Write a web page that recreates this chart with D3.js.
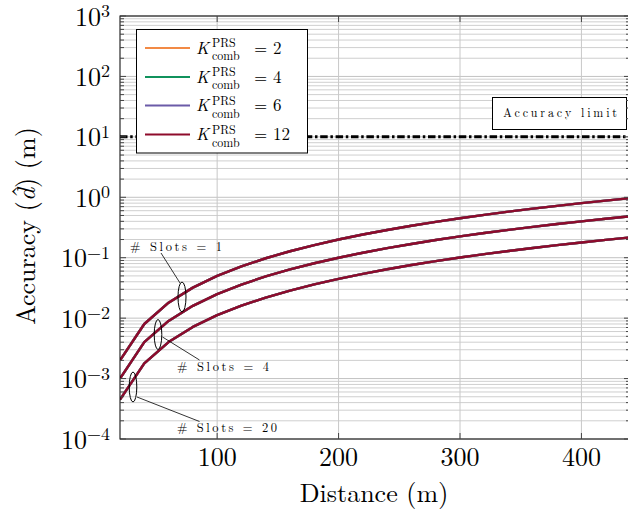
<!DOCTYPE html>
<html><head><meta charset="utf-8">
<script src="https://cdn.jsdelivr.net/npm/d3@7"></script>
<style>body{margin:0;background:#fff} svg{display:block}</style>
</head><body><svg id="c" width="628" height="512"></svg>
<script>
// ---- data ----
const distances = [20,40,60,80,100,120,140,160,180,200,220,240,260,280,300,320,340,360,380,400,420,440];
const slots1  = [0.002,0.008,0.018,0.032,0.05,0.072,0.098,0.128,0.162,0.2,0.242,0.288,0.338,0.392,0.45,0.512,0.578,0.648,0.722,0.8,0.882,0.968];
const slots4  = [0.001,0.004,0.009,0.016,0.025,0.036,0.049,0.064,0.081,0.1,0.121,0.144,0.169,0.196,0.225,0.256,0.289,0.324,0.361,0.4,0.441,0.484];
const slots20 = [0.000447,0.00179,0.00402,0.00716,0.0112,0.0161,0.0219,0.0286,0.0362,0.0447,0.0541,0.0644,0.0756,0.0877,0.1006,0.1145,0.1293,0.1449,0.1614,0.1789,0.1972,0.2164];
const kValues = [2,4,6,12];
const kColors = ["#f28a45","#10925c","#6b5ba8","#8e0b2b"];
const accuracyLimit = 10;
const xTicks = [100,200,300,400];
const yExps = [-4,-3,-2,-1,0,1,2,3];
const slotLabels = ["# Slots = 1","# Slots = 4","# Slots = 20"];
const xTitle = "Distance (m)";
const limitLabel = "Accuracy limit";

// ---- layout ----
const FONT = "'Latin Modern Roman', 'Liberation Serif', serif";
const L=120, R=630, T=16, B=439;
const svg = d3.select("#c");
const x = d3.scaleLinear().domain([20,440]).range([L,R]);
const y = d3.scaleLog().domain([1e-4,1e3]).range([B,T]);
const txt = (sel)=>sel.append("text").style("font-family",FONT).attr("fill","#000");

svg.append("defs").append("clipPath").attr("id","clip")
  .append("rect").attr("x",L).attr("y",T).attr("width",R-L).attr("height",B-T);

// grid
const g = svg.append("g");
const minorVals = [];
for (let e=-4;e<3;e++) for (let m=2;m<=9;m++) minorVals.push(m*Math.pow(10,e));
g.selectAll(".mn").data(minorVals).enter().append("line")
  .attr("x1",L).attr("x2",R).attr("y1",d=>y(d)).attr("y2",d=>y(d))
  .attr("stroke","#cfcfcf").attr("stroke-width",1);
g.selectAll(".mj").data(yExps).enter().append("line")
  .attr("x1",L).attr("x2",R).attr("y1",d=>y(Math.pow(10,d))).attr("y2",d=>y(Math.pow(10,d)))
  .attr("stroke","#c2c2c2").attr("stroke-width",1);
g.selectAll(".vx").data(xTicks).enter().append("line")
  .attr("x1",d=>x(d)).attr("x2",d=>x(d)).attr("y1",T).attr("y2",B)
  .attr("stroke","#c8c8c8").attr("stroke-width",1);

// accuracy limit line
svg.append("line").attr("x1",L).attr("x2",R).attr("y1",y(accuracyLimit)).attr("y2",y(accuracyLimit))
  .attr("stroke","#000").attr("stroke-width",3).attr("stroke-dasharray","7.5 2.7 2.5 2.7");

// curves
const line = d3.line().x(d=>x(d[0])).y(d=>y(d[1]));
const groups = [slots1, slots4, slots20];
const cg = svg.append("g").attr("clip-path","url(#clip)");
kValues.forEach((k,i)=>{
  groups.forEach(vals=>{
    cg.append("path").datum(distances.map((d,j)=>[d,vals[j]]))
      .attr("d",line).attr("fill","none").attr("stroke",kColors[i])
      .attr("stroke-width",2.4).attr("stroke-linejoin","round");
  });
});

// legend
const lg = svg.append("g");
lg.append("rect").attr("x",136.5).attr("y",29.5).attr("width",171).attr("height",123.5)
  .attr("fill","#fff").attr("stroke","#000").attr("stroke-width",1);
const rowY = [48,77,105.5,134.5];
kValues.forEach((k,i)=>{
  const ry = rowY[i];
  lg.append("line").attr("x1",145).attr("x2",190).attr("y1",ry).attr("y2",ry)
    .attr("stroke",kColors[i]).attr("stroke-width",2);
  const t = txt(lg).attr("x",196).attr("y",ry+5.5).attr("font-size",17);
  t.append("tspan").attr("font-style","italic").text("K");
  t.append("tspan").attr("x",212).attr("y",ry-1).attr("font-size",12).text("PRS");
  t.append("tspan").attr("x",212).attr("y",ry+12).attr("font-size",12).text("comb");
  t.append("tspan").attr("x",254).attr("y",ry+5.5).text("= "+k);
});

// accuracy limit box
svg.append("rect").attr("x",492.5).attr("y",97.5).attr("width",134).attr("height",32)
  .attr("fill","#fff").attr("stroke","#000").attr("stroke-width",1);
txt(svg).attr("x",503).attr("y",117).attr("font-size",12)
  .attr("textLength",114).attr("lengthAdjust","spacing").text(limitLabel);

// slot annotations
const ann = svg.append("g");
const ell = [[182,297,4,15],[158,334.5,3.8,15],[133,387,3.8,15]];
ell.forEach(e=>ann.append("ellipse").attr("cx",e[0]).attr("cy",e[1]).attr("rx",e[2]).attr("ry",e[3])
  .attr("fill","none").attr("stroke","#000").attr("stroke-width",1));
const segs = [[161,253,180,283],[162.5,337,199.5,360],[137,397,199.5,421.5]];
segs.forEach(s=>ann.append("line").attr("x1",s[0]).attr("y1",s[1]).attr("x2",s[2]).attr("y2",s[3])
  .attr("stroke","#000").attr("stroke-width",0.8));
const labPos = [[130,250.5,92],[177,370.5,92],[177,431.5,100]];
slotLabels.forEach((t,i)=>txt(ann).attr("x",labPos[i][0]).attr("y",labPos[i][1])
  .attr("font-size",12.5).attr("textLength",labPos[i][2]).attr("lengthAdjust","spacing").text(t));

// axes frame and ticks
const ax = svg.append("g").attr("stroke","#000");
ax.append("rect").attr("x",L).attr("y",T).attr("width",R-L).attr("height",B-T)
  .attr("fill","none").attr("stroke-width",1);
const tk = svg.append("g").attr("stroke","#444").attr("stroke-width",1);
minorVals.forEach(v=>{
  tk.append("line").attr("x1",L).attr("x2",L+4).attr("y1",y(v)).attr("y2",y(v));
  tk.append("line").attr("x1",R-4).attr("x2",R).attr("y1",y(v)).attr("y2",y(v));
});
yExps.forEach(e=>{
  const v=Math.pow(10,e);
  tk.append("line").attr("x1",L).attr("x2",L+6).attr("y1",y(v)).attr("y2",y(v));
  tk.append("line").attr("x1",R-6).attr("x2",R).attr("y1",y(v)).attr("y2",y(v));
});
xTicks.forEach(v=>{
  tk.append("line").attr("x1",x(v)).attr("x2",x(v)).attr("y1",B).attr("y2",B-6);
  tk.append("line").attr("x1",x(v)).attr("x2",x(v)).attr("y1",T).attr("y2",T+6);
});

// tick labels
xTicks.forEach(v=>txt(svg).attr("x",x(v)).attr("y",466).attr("text-anchor","middle").attr("font-size",26).text(v));
yExps.forEach(e=>{
  const t = txt(svg).attr("x",110).attr("y",y(Math.pow(10,e))+9.5).attr("text-anchor","end").attr("font-size",26);
  t.append("tspan").text("10");
  t.append("tspan").attr("font-size",18).attr("dy",-8.5).text(e<0?"\u2212"+(-e):String(e));
});

// axis titles
txt(svg).attr("x",374).attr("y",502).attr("text-anchor","middle").attr("font-size",26).text(xTitle);
const yg = svg.append("g").attr("transform","translate(35,226) rotate(-90)");
const yt = txt(yg).attr("x",0).attr("y",0).attr("text-anchor","middle").attr("font-size",26);
yt.append("tspan").text("Accuracy (");
yt.append("tspan").attr("font-style","italic").text("d");
yt.append("tspan").text(") (m)");
const ext = yt.node().getExtentOfChar(10);
txt(yg).attr("x",ext.x+ext.width/2+3).attr("y",-5.5)
  .attr("text-anchor","middle").attr("font-size",26).text("\u02C6");
</script></body></html>
